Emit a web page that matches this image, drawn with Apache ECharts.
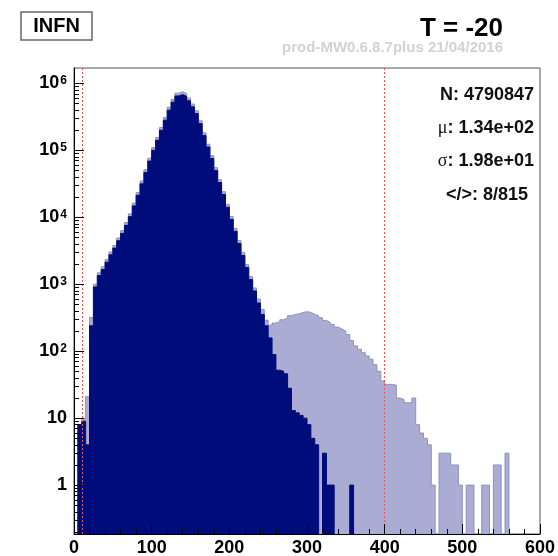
<!DOCTYPE html>
<html>
<head>
<meta charset="utf-8">
<script src="https://cdn.jsdelivr.net/npm/echarts@6/dist/echarts.min.js"></script>
<style>
  html, body { margin: 0; padding: 0; background: #fff; }
  #chart { width: 558px; height: 556px; }
</style>
</head>
<body>
<div id="chart"></div>
<script>
// histogram: 120 bins of width 5 from 0 to 600
const binWidth = 5;
const binCount = 120;

// all entries (light histogram)
const totalCounts = [
  0, 8, 10, 21, 320, 1000, 1480, 1820, 2350, 3030,
  3810, 4910, 6330, 8350, 11260, 16270, 23520, 34790, 51450, 76100,
  110000, 155400, 219500, 310000, 437900, 577300, 715000, 750000, 704000, 604500,
  491400, 390300, 276300, 182600, 123400, 83400, 55100, 36400, 24100, 15540,
  10270, 6780, 4480, 2960, 1960, 1300, 880, 600, 420, 290,
  245, 263, 275, 295, 316, 339, 355, 363, 380, 389,
  380, 355, 339, 316, 288, 269, 251, 229, 214, 200,
  178, 145, 120, 107, 95, 85, 76, 63, 50, 36,
  32, 32, 31, 20, 19, 17, 17, 20, 8, 6,
  5, 4, 1, 0, 3, 3, 3, 2, 2, 1,
  0, 1, 1, 0, 0, 1, 1, 0, 2, 2,
  0, 3, 0, 0, 0, 0, 0, 0, 0, 0
];

// selected entries (dark histogram)
const selectedCounts = [
  0, 8, 9, 4, 240, 912, 1349, 1660, 2138, 2754,
  3467, 4467, 5754, 7586, 10233, 14791, 21380, 31623, 46774, 69183,
  100000, 141254, 199526, 281838, 398107, 524807, 650000, 680000, 640000, 549541,
  446684, 354813, 251189, 165959, 112202, 75858, 50119, 33113, 21878, 14125,
  9333, 6166, 4074, 2692, 1778, 1175, 794, 525, 355, 240,
  158, 89, 52, 50, 46, 28, 13, 12, 11, 10,
  8, 5, 4, 0, 3, 1, 1, 0, 0, 0,
  0, 1, 0, 0, 0, 0, 0, 0, 0, 0,
  0, 0, 0, 0, 0, 0, 0, 0, 0, 0,
  0, 0, 0, 0, 0, 0, 0, 0, 0, 0,
  0, 0, 0, 0, 0, 0, 0, 0, 0, 0,
  0, 0, 0, 0, 0, 0, 0, 0, 0, 0
];

const cutValues = [10, 400];
const decadeTicks = [0, 1, 2, 3, 4, 5, 6];
const minorMultipliers = [2, 3, 4, 5, 6, 7, 8, 9];
const statLines = ['N: 4790847', '1.34e+02', '1.98e+01', '</>: 8/815'];

const yMin = -0.73;
const yMax = 6.23;
const FONT = '"Liberation Sans", Arial, Helvetica, sans-serif';
const CUT_RED = '#e5575c';

const minorTicks = [];
for (let n = -1; n <= 6; n++) {
  minorMultipliers.forEach(k => {
    const v = n + Math.log10(k);
    if (v > yMin && v < yMax) minorTicks.push(v);
  });
}

const toSteps = counts => {
  const pts = counts.map((c, i) => [i * binWidth, c > 0 ? Math.log10(c) : -3]);
  pts.push([binCount * binWidth, pts[pts.length - 1][1]]);
  return pts;
};

const chart = echarts.init(document.getElementById('chart'));

const axisText = { fontFamily: FONT, fontWeight: 'bold', fontSize: 18, color: '#000' };

const option = {
  animation: false,
  grid: {
    left: 74, right: 18, top: 68, bottom: 22,
    show: true,
    borderColor: '#555',
    borderWidth: 1,
    outerBoundsMode: 'none'
  },
  xAxis: {
    type: 'value',
    min: 0,
    max: 600,
    interval: 100,
    z: 10,
    axisLine: { show: true, onZero: false, lineStyle: { color: '#000', width: 1 } },
    axisTick: { show: true, inside: true, length: 10, lineStyle: { color: '#000' } },
    minorTick: { show: true, splitNumber: 5, length: 5, lineStyle: { color: '#000' } },
    splitLine: { show: false },
    axisLabel: Object.assign({ margin: 5 }, axisText)
  },
  yAxis: [
    {
      type: 'value',
      position: 'left',
      min: yMin,
      max: yMax,
      z: 10,
      axisLine: { show: true, onZero: false, lineStyle: { color: '#000', width: 1 } },
      axisTick: { show: true, inside: true, length: 10, customValues: decadeTicks, lineStyle: { color: '#000' } },
      splitLine: { show: false },
      axisLabel: {
        margin: 7,
        customValues: decadeTicks,
        formatter: v => {
          if (v === 0) return '{b|1}';
          if (v === 1) return '{b|10}';
          return '{b|10}{s|' + v + '}';
        },
        rich: {
          b: axisText,
          s: { fontFamily: FONT, fontWeight: 'bold', fontSize: 12, color: '#000', verticalAlign: 'top', padding: [0, 0, 0, 1] }
        }
      }
    },
    {
      type: 'value',
      position: 'left',
      offset: 0,
      min: yMin,
      max: yMax,
      z: 10,
      axisLine: { show: false, onZero: false },
      axisTick: { show: true, inside: true, length: 5, customValues: minorTicks, lineStyle: { color: '#000' } },
      splitLine: { show: false },
      axisLabel: { show: false }
    }
  ],
  series: [
    {
      name: 'all',
      type: 'line',
      step: 'end',
      showSymbol: false,
      data: toSteps(totalCounts),
      lineStyle: { color: '#8e90bf', width: 1 },
      areaStyle: { color: '#aaacd4', opacity: 1, origin: 'start' },
      z: 2
    },
    {
      name: 'selected',
      type: 'line',
      step: 'end',
      showSymbol: false,
      data: toSteps(selectedCounts),
      lineStyle: { color: '#000c7c', width: 1 },
      areaStyle: { color: '#000c7c', opacity: 1, origin: 'start' },
      z: 3
    },
    {
      name: 'cuts',
      type: 'line',
      data: [],
      z: 6,
      markLine: {
        silent: true,
        symbol: ['none', 'none'],
        label: { show: false },
        lineStyle: { color: CUT_RED, type: [2, 2], width: 1, opacity: 1 },
        data: cutValues.map(v => ({ xAxis: v, lineStyle: { color: CUT_RED } }))
      }
    }
  ],
  graphic: [
    { type: 'rect', shape: { x: 21, y: 12, width: 71, height: 28 }, style: { fill: '#fff', stroke: '#666', lineWidth: 1.5 } },
    { type: 'text', x: 56.5, y: 26.5, style: { text: 'INFN', font: 'bold 20px ' + FONT, fill: '#000', align: 'center', verticalAlign: 'middle' } },
    { type: 'text', x: 503, y: 29, style: { text: 'T = -20', font: 'bold 26px ' + FONT, fill: '#000', align: 'right', verticalAlign: 'middle' } },
    { type: 'text', x: 503, y: 48, style: { text: 'prod-MW0.6.8.7plus 21/04/2016', font: 'bold 15px ' + FONT, fill: '#d2d2d2', align: 'right', verticalAlign: 'middle' } },
    { type: 'text', x: 534, y: 95, style: { text: statLines[0], font: 'bold 18px ' + FONT, fill: '#111', align: 'right', verticalAlign: 'middle' } },
    {
      type: 'text', x: 534, y: 128,
      style: {
        text: '{g|\u03bc}{t|: ' + statLines[1] + '}', align: 'right', verticalAlign: 'middle',
        rich: {
          g: { fontFamily: '"Liberation Serif", serif', fontSize: 18, fill: '#111' },
          t: { fontFamily: FONT, fontWeight: 'bold', fontSize: 18, fill: '#111' }
        }
      }
    },
    {
      type: 'text', x: 534, y: 161.5,
      style: {
        text: '{g|\u03c3}{t|: ' + statLines[2] + '}', align: 'right', verticalAlign: 'middle',
        rich: {
          g: { fontFamily: '"Liberation Serif", serif', fontSize: 18, fill: '#111' },
          t: { fontFamily: FONT, fontWeight: 'bold', fontSize: 18, fill: '#111' }
        }
      }
    },
    { type: 'text', x: 487, y: 195, style: { text: statLines[3], font: 'bold 18px ' + FONT, fill: '#111', align: 'center', verticalAlign: 'middle' } }
  ]
};

chart.setOption(option);
</script>
</body>
</html>
